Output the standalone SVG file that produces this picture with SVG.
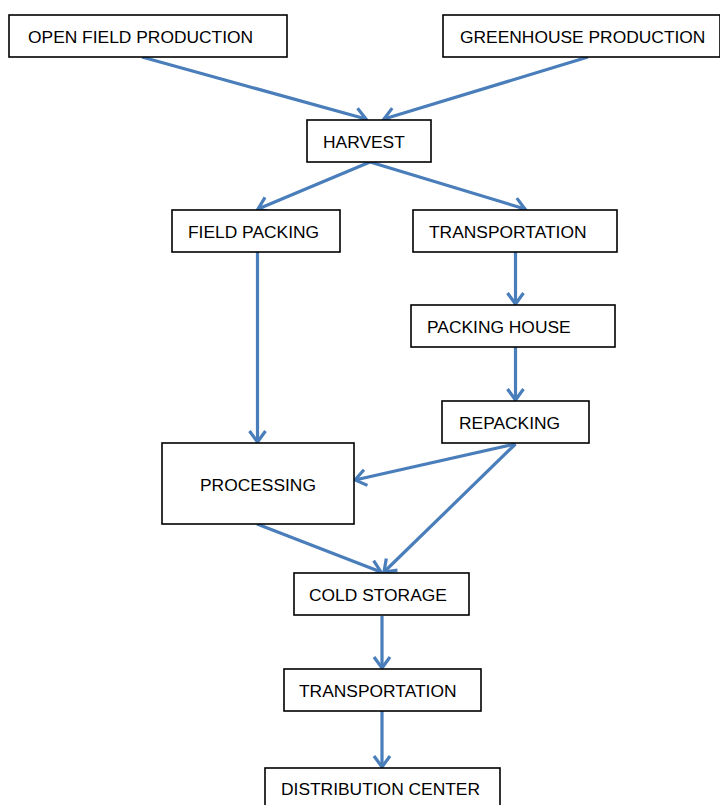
<svg xmlns="http://www.w3.org/2000/svg" width="720" height="805" viewBox="0 0 720 805">
<style>
.box rect{fill:#fff;stroke:#000;stroke-width:1.6}
.box text{font-family:"Liberation Sans",Arial,sans-serif;font-size:17.4px;fill:#000}
.conn line{stroke:#4A7EBB;stroke-width:3.2;fill:none;marker-end:url(#ah)}
</style>
<defs>
<marker id="ah" markerUnits="userSpaceOnUse" markerWidth="24" markerHeight="24" refX="0" refY="0" viewBox="-14 -12 16 24" orient="auto" overflow="visible">
<path d="M-11,-8 L0,0 L-11,8" fill="none" stroke="#4A7EBB" stroke-width="3.2" stroke-linejoin="miter"/>
</marker>
</defs>
<rect width="720" height="805" fill="#fff"/>
<g class="conn">
<line x1="142" y1="57" x2="366" y2="119"/>
<line x1="588" y1="57" x2="384" y2="119"/>
<line x1="370" y1="162" x2="258" y2="209"/>
<line x1="370" y1="162" x2="525" y2="209"/>
<line x1="257.5" y1="252" x2="257.5" y2="442"/>
<line x1="515.5" y1="252" x2="515.5" y2="304"/>
<line x1="515.5" y1="347" x2="515.5" y2="400"/>
<line x1="515.5" y1="444" x2="355" y2="480"/>
<line x1="515.5" y1="444" x2="384" y2="572"/>
<line x1="257" y1="524" x2="381" y2="572"/>
<line x1="382" y1="616" x2="382" y2="668"/>
<line x1="382" y1="711" x2="382" y2="767"/>
</g>
<g id="open-field" class="box"><rect x="9" y="15" width="278" height="42"/><text x="28" y="43">OPEN FIELD PRODUCTION</text></g>
<g id="greenhouse" class="box"><rect x="443" y="15" width="277" height="42"/><text x="460" y="43">GREENHOUSE PRODUCTION</text></g>
<g id="harvest" class="box"><rect x="307" y="120" width="124" height="42"/><text x="323" y="148">HARVEST</text></g>
<g id="field-packing" class="box"><rect x="172" y="210" width="168" height="42"/><text x="188" y="238">FIELD PACKING</text></g>
<g id="transportation1" class="box"><rect x="413" y="210" width="204" height="42"/><text x="429" y="238">TRANSPORTATION</text></g>
<g id="packing-house" class="box"><rect x="411" y="305" width="204" height="42"/><text x="427" y="333">PACKING HOUSE</text></g>
<g id="repacking" class="box"><rect x="442" y="401" width="147" height="42"/><text x="459" y="429">REPACKING</text></g>
<g id="processing" class="box"><rect x="162" y="443" width="192" height="81"/><text x="200" y="491">PROCESSING</text></g>
<g id="cold-storage" class="box"><rect x="294" y="573" width="175" height="42"/><text x="309" y="601">COLD STORAGE</text></g>
<g id="transportation2" class="box"><rect x="284" y="669" width="197" height="42"/><text x="299" y="697">TRANSPORTATION</text></g>
<g id="distribution" class="box"><rect x="265" y="768" width="235" height="42"/><text x="281" y="795">DISTRIBUTION CENTER</text></g>
</svg>
